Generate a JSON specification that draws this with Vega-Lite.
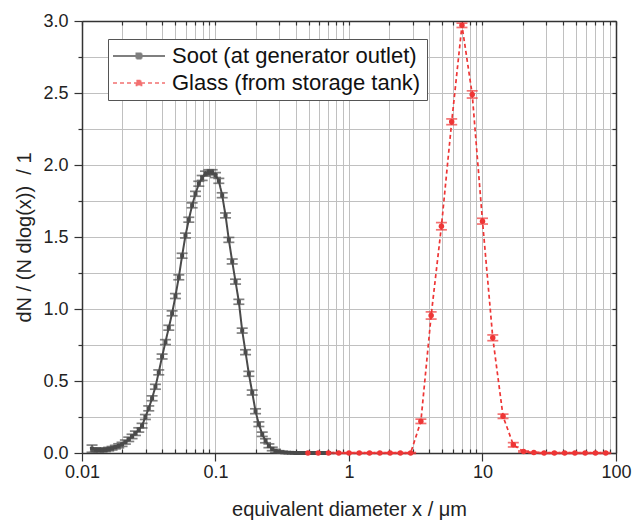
{
  "$schema": "https://vega.github.io/schema/vega-lite/v6.json",
  "width": 534,
  "height": 432,
  "autosize": {"type": "none"},
  "padding": {"left": 82, "top": 21, "right": 27, "bottom": 69},
  "config": {
    "font": "Liberation Sans",
    "view": {"stroke": null},
    "axis": {
      "labelFont": "Liberation Sans", "titleFont": "Liberation Sans",
      "labelFontSize": 18, "titleFontSize": 20, "titleFontWeight": "normal",
      "labelColor": "#222", "titleColor": "#222",
      "domainColor": "#333", "domainWidth": 1.5,
      "tickColor": "#333", "tickWidth": 1.2,
      "gridColor": "#c0c0c0", "gridWidth": 1, "gridOpacity": 1
    },
    "legend": {
      "orient": "none", "legendX": 26, "legendY": 18,
      "symbolType": "M-2.6,0H2.6M-0.25,-0.25H0.25V0.25H-0.25Z",
      "symbolSize": 400, "symbolStrokeWidth": 1.5, "symbolOffset": 14,
      "labelFontSize": 22, "labelFont": "Liberation Sans", "labelColor": "#111",
      "labelOffset": 22, "padding": 6, "rowPadding": 5,
      "strokeColor": "#555", "fillColor": "white", "cornerRadius": 0, "labelLimit": 400
    }
  },
  "data": {"values": [
    {"s": "Soot (at generator outlet)", "x": 0.01189, "y": 0.030, "e": 0.025},
    {"s": "Soot (at generator outlet)", "x": 0.01259, "y": 0.024, "e": 0.012},
    {"s": "Soot (at generator outlet)", "x": 0.01334, "y": 0.020, "e": 0.012},
    {"s": "Soot (at generator outlet)", "x": 0.01413, "y": 0.020, "e": 0.012},
    {"s": "Soot (at generator outlet)", "x": 0.01496, "y": 0.022, "e": 0.012},
    {"s": "Soot (at generator outlet)", "x": 0.01585, "y": 0.027, "e": 0.012},
    {"s": "Soot (at generator outlet)", "x": 0.01679, "y": 0.033, "e": 0.012},
    {"s": "Soot (at generator outlet)", "x": 0.01778, "y": 0.041, "e": 0.012},
    {"s": "Soot (at generator outlet)", "x": 0.01884, "y": 0.050, "e": 0.014},
    {"s": "Soot (at generator outlet)", "x": 0.01995, "y": 0.060, "e": 0.014},
    {"s": "Soot (at generator outlet)", "x": 0.02113, "y": 0.076, "e": 0.014},
    {"s": "Soot (at generator outlet)", "x": 0.02239, "y": 0.095, "e": 0.015},
    {"s": "Soot (at generator outlet)", "x": 0.02371, "y": 0.115, "e": 0.015},
    {"s": "Soot (at generator outlet)", "x": 0.02512, "y": 0.137, "e": 0.015},
    {"s": "Soot (at generator outlet)", "x": 0.02661, "y": 0.160, "e": 0.015},
    {"s": "Soot (at generator outlet)", "x": 0.02818, "y": 0.190, "e": 0.016},
    {"s": "Soot (at generator outlet)", "x": 0.02985, "y": 0.250, "e": 0.017},
    {"s": "Soot (at generator outlet)", "x": 0.03162, "y": 0.310, "e": 0.017},
    {"s": "Soot (at generator outlet)", "x": 0.03350, "y": 0.380, "e": 0.017},
    {"s": "Soot (at generator outlet)", "x": 0.03548, "y": 0.460, "e": 0.017},
    {"s": "Soot (at generator outlet)", "x": 0.03758, "y": 0.560, "e": 0.017},
    {"s": "Soot (at generator outlet)", "x": 0.03981, "y": 0.670, "e": 0.017},
    {"s": "Soot (at generator outlet)", "x": 0.04217, "y": 0.770, "e": 0.017},
    {"s": "Soot (at generator outlet)", "x": 0.04467, "y": 0.870, "e": 0.017},
    {"s": "Soot (at generator outlet)", "x": 0.04732, "y": 0.970, "e": 0.017},
    {"s": "Soot (at generator outlet)", "x": 0.05012, "y": 1.090, "e": 0.017},
    {"s": "Soot (at generator outlet)", "x": 0.05309, "y": 1.220, "e": 0.017},
    {"s": "Soot (at generator outlet)", "x": 0.05623, "y": 1.370, "e": 0.017},
    {"s": "Soot (at generator outlet)", "x": 0.05957, "y": 1.510, "e": 0.017},
    {"s": "Soot (at generator outlet)", "x": 0.06310, "y": 1.620, "e": 0.017},
    {"s": "Soot (at generator outlet)", "x": 0.06683, "y": 1.720, "e": 0.017},
    {"s": "Soot (at generator outlet)", "x": 0.07079, "y": 1.800, "e": 0.017},
    {"s": "Soot (at generator outlet)", "x": 0.07499, "y": 1.870, "e": 0.017},
    {"s": "Soot (at generator outlet)", "x": 0.07943, "y": 1.910, "e": 0.017},
    {"s": "Soot (at generator outlet)", "x": 0.08414, "y": 1.940, "e": 0.017},
    {"s": "Soot (at generator outlet)", "x": 0.08913, "y": 1.950, "e": 0.017},
    {"s": "Soot (at generator outlet)", "x": 0.09441, "y": 1.950, "e": 0.017},
    {"s": "Soot (at generator outlet)", "x": 0.1, "y": 1.930, "e": 0.017},
    {"s": "Soot (at generator outlet)", "x": 0.1059, "y": 1.890, "e": 0.017},
    {"s": "Soot (at generator outlet)", "x": 0.1122, "y": 1.790, "e": 0.017},
    {"s": "Soot (at generator outlet)", "x": 0.1189, "y": 1.650, "e": 0.017},
    {"s": "Soot (at generator outlet)", "x": 0.1259, "y": 1.480, "e": 0.017},
    {"s": "Soot (at generator outlet)", "x": 0.1334, "y": 1.330, "e": 0.017},
    {"s": "Soot (at generator outlet)", "x": 0.1413, "y": 1.190, "e": 0.017},
    {"s": "Soot (at generator outlet)", "x": 0.1496, "y": 1.050, "e": 0.017},
    {"s": "Soot (at generator outlet)", "x": 0.1585, "y": 0.850, "e": 0.017},
    {"s": "Soot (at generator outlet)", "x": 0.1679, "y": 0.700, "e": 0.017},
    {"s": "Soot (at generator outlet)", "x": 0.1778, "y": 0.550, "e": 0.017},
    {"s": "Soot (at generator outlet)", "x": 0.1884, "y": 0.420, "e": 0.017},
    {"s": "Soot (at generator outlet)", "x": 0.1995, "y": 0.290, "e": 0.017},
    {"s": "Soot (at generator outlet)", "x": 0.2113, "y": 0.200, "e": 0.016},
    {"s": "Soot (at generator outlet)", "x": 0.2239, "y": 0.130, "e": 0.015},
    {"s": "Soot (at generator outlet)", "x": 0.2371, "y": 0.085, "e": 0.014},
    {"s": "Soot (at generator outlet)", "x": 0.2512, "y": 0.050, "e": 0.013},
    {"s": "Soot (at generator outlet)", "x": 0.2661, "y": 0.028, "e": 0.012},
    {"s": "Soot (at generator outlet)", "x": 0.2818, "y": 0.015, "e": 0.010},
    {"s": "Soot (at generator outlet)", "x": 0.2985, "y": 0.008, "e": 0.008},
    {"s": "Soot (at generator outlet)", "x": 0.3162, "y": 0.005, "e": 0.006},
    {"s": "Soot (at generator outlet)", "x": 0.3350, "y": 0.003, "e": 0.004},
    {"s": "Soot (at generator outlet)", "x": 0.3548, "y": 0.002, "e": 0.003},
    {"s": "Soot (at generator outlet)", "x": 0.3758, "y": 0.001, "e": 0.003},
    {"s": "Soot (at generator outlet)", "x": 0.3981, "y": 0, "e": 0.002},
    {"s": "Soot (at generator outlet)", "x": 0.4217, "y": 0, "e": 0.002},
    {"s": "Soot (at generator outlet)", "x": 0.4467, "y": 0, "e": 0.002},
    {"s": "Soot (at generator outlet)", "x": 0.4732, "y": 0, "e": 0.002},
    {"s": "Soot (at generator outlet)", "x": 0.5012, "y": 0, "e": 0.002},
    {"s": "Soot (at generator outlet)", "x": 0.5309, "y": 0, "e": 0.002},
    {"s": "Soot (at generator outlet)", "x": 0.5623, "y": 0, "e": 0.002},
    {"s": "Soot (at generator outlet)", "x": 0.5957, "y": 0, "e": 0.002},
    {"s": "Soot (at generator outlet)", "x": 0.6310, "y": 0, "e": 0.002},
    {"s": "Soot (at generator outlet)", "x": 0.6683, "y": 0, "e": 0.002},
    {"s": "Soot (at generator outlet)", "x": 0.7079, "y": 0, "e": 0.002},
    {"s": "Glass (from storage tank)", "x": 0.4924, "y": 0, "e": 0.003},
    {"s": "Glass (from storage tank)", "x": 0.5878, "y": 0, "e": 0.003},
    {"s": "Glass (from storage tank)", "x": 0.7017, "y": 0, "e": 0.003},
    {"s": "Glass (from storage tank)", "x": 0.8377, "y": 0, "e": 0.003},
    {"s": "Glass (from storage tank)", "x": 1.0, "y": 0, "e": 0.003},
    {"s": "Glass (from storage tank)", "x": 1.1938, "y": 0, "e": 0.003},
    {"s": "Glass (from storage tank)", "x": 1.4251, "y": 0, "e": 0.003},
    {"s": "Glass (from storage tank)", "x": 1.7013, "y": 0, "e": 0.003},
    {"s": "Glass (from storage tank)", "x": 2.0309, "y": 0, "e": 0.003},
    {"s": "Glass (from storage tank)", "x": 2.4245, "y": 0, "e": 0.003},
    {"s": "Glass (from storage tank)", "x": 2.8943, "y": 0, "e": 0.003},
    {"s": "Glass (from storage tank)", "x": 3.4551, "y": 0.22, "e": 0.015},
    {"s": "Glass (from storage tank)", "x": 4.1246, "y": 0.955, "e": 0.025},
    {"s": "Glass (from storage tank)", "x": 4.9239, "y": 1.575, "e": 0.025},
    {"s": "Glass (from storage tank)", "x": 5.878, "y": 2.30, "e": 0.02},
    {"s": "Glass (from storage tank)", "x": 7.017, "y": 2.97, "e": 0.015},
    {"s": "Glass (from storage tank)", "x": 8.3768, "y": 2.49, "e": 0.025},
    {"s": "Glass (from storage tank)", "x": 10.0, "y": 1.61, "e": 0.02},
    {"s": "Glass (from storage tank)", "x": 11.938, "y": 0.80, "e": 0.02},
    {"s": "Glass (from storage tank)", "x": 14.251, "y": 0.255, "e": 0.015},
    {"s": "Glass (from storage tank)", "x": 17.013, "y": 0.057, "e": 0.015},
    {"s": "Glass (from storage tank)", "x": 20.309, "y": 0.01, "e": 0.005},
    {"s": "Glass (from storage tank)", "x": 24.245, "y": 0.003, "e": 0.003},
    {"s": "Glass (from storage tank)", "x": 28.943, "y": 0, "e": 0.003},
    {"s": "Glass (from storage tank)", "x": 34.551, "y": 0, "e": 0.003},
    {"s": "Glass (from storage tank)", "x": 41.246, "y": 0, "e": 0.003},
    {"s": "Glass (from storage tank)", "x": 49.239, "y": 0, "e": 0.003},
    {"s": "Glass (from storage tank)", "x": 58.78, "y": 0, "e": 0.003},
    {"s": "Glass (from storage tank)", "x": 70.17, "y": 0, "e": 0.003},
    {"s": "Glass (from storage tank)", "x": 83.768, "y": 0, "e": 0.003}
  ]},
  "layer": [
    {
      "mark": {"type": "line"},
      "encoding": {
        "x": {"field": "x", "type": "quantitative",
          "scale": {"type": "log", "domain": [0.01, 100], "nice": false},
          "axis": {"orient": "bottom", "title": "equivalent diameter x / μm",
            "values": [0.01,0.02,0.03,0.04,0.05,0.06,0.07,0.08,0.09,0.1,0.2,0.3,0.4,0.5,0.6,0.7,0.8,0.9,1,2,3,4,5,6,7,8,9,10,20,30,40,50,60,70,80,90,100],
            "format": "~g",
            "labelExpr": "indexof([0.01, 0.1, 1, 10, 100], datum.value) >= 0 ? datum.label : ''",
            "tickSize": {"condition": {"test": "indexof([0.01, 0.1, 1, 10, 100], datum.value) >= 0", "value": 8}, "value": -4},
            "labelPadding": 2, "titlePadding": 18, "grid": true, "labelFlush": false, "labelOverlap": false}},
        "y": {"field": "y", "type": "quantitative",
          "scale": {"domain": [0, 3], "nice": false},
          "axis": {"orient": "left", "title": "dN / (N dlog(x))\u00a0 / 1",
            "values": [0,0.25,0.5,0.75,1,1.25,1.5,1.75,2,2.25,2.5,2.75,3],
            "labelExpr": "datum.value % 0.5 == 0 ? format(datum.value, '.1f') : ''",
            "tickSize": {"condition": {"test": "datum.value % 0.5 == 0", "value": 8}, "value": 4},
            "labelPadding": 6, "titlePadding": 8, "grid": true, "labelOverlap": false, "labelFlush": false}},
        "color": {"field": "s", "type": "nominal",
          "scale": {"domain": ["Soot (at generator outlet)", "Glass (from storage tank)"], "range": ["#4a4a4a", "#ee3535"]},
          "legend": {"title": null}},
        "strokeDash": {"field": "s", "type": "nominal",
          "scale": {"domain": ["Soot (at generator outlet)", "Glass (from storage tank)"], "range": [[1, 0], [4, 3]]},
          "legend": {"title": null}},
        "strokeWidth": {"field": "s", "type": "nominal",
          "scale": {"domain": ["Soot (at generator outlet)", "Glass (from storage tank)"], "range": [2, 1.7]},
          "legend": null}
      }
    },
    {
      "mark": {"type": "errorbar", "ticks": {"size": 11, "thickness": 1.7}, "thickness": 1.4},
      "encoding": {
        "x": {"field": "x", "type": "quantitative", "axis": null},
        "y": {"field": "y", "type": "quantitative", "axis": null},
        "yError": {"field": "e"},
        "color": {"field": "s", "type": "nominal"}
      }
    },
    {
      "transform": [{"filter": "datum.s == 'Soot (at generator outlet)'"}],
      "mark": {"type": "point", "filled": true, "opacity": 1, "shape": "square", "size": 16},
      "encoding": {
        "x": {"field": "x", "type": "quantitative", "axis": null},
        "y": {"field": "y", "type": "quantitative", "axis": null},
        "color": {"field": "s", "type": "nominal"}
      }
    },
    {
      "transform": [{"filter": "datum.s == 'Glass (from storage tank)'"}],
      "mark": {"type": "point", "filled": true, "opacity": 1, "shape": "circle", "size": 30},
      "encoding": {
        "x": {"field": "x", "type": "quantitative", "axis": null},
        "y": {"field": "y", "type": "quantitative", "axis": null},
        "color": {"field": "s", "type": "nominal"}
      }
    },
    {
      "mark": {"type": "point", "opacity": 0},
      "encoding": {
        "x": {"field": "x", "type": "quantitative",
          "axis": {"orient": "top", "title": null, "labels": false, "grid": false, "tickSize": -4,
            "values": [0.01,0.02,0.03,0.04,0.05,0.06,0.07,0.08,0.09,0.1,0.2,0.3,0.4,0.5,0.6,0.7,0.8,0.9,1,2,3,4,5,6,7,8,9,10,20,30,40,50,60,70,80,90,100]}},
        "y": {"field": "y", "type": "quantitative",
          "axis": {"orient": "right", "title": null, "labels": false, "grid": false, "tickSize": -4,
            "values": [0,0.25,0.5,0.75,1,1.25,1.5,1.75,2,2.25,2.5,2.75,3]}}
      }
    }
  ],
  "resolve": {"axis": {"x": "independent", "y": "independent"}}
}
